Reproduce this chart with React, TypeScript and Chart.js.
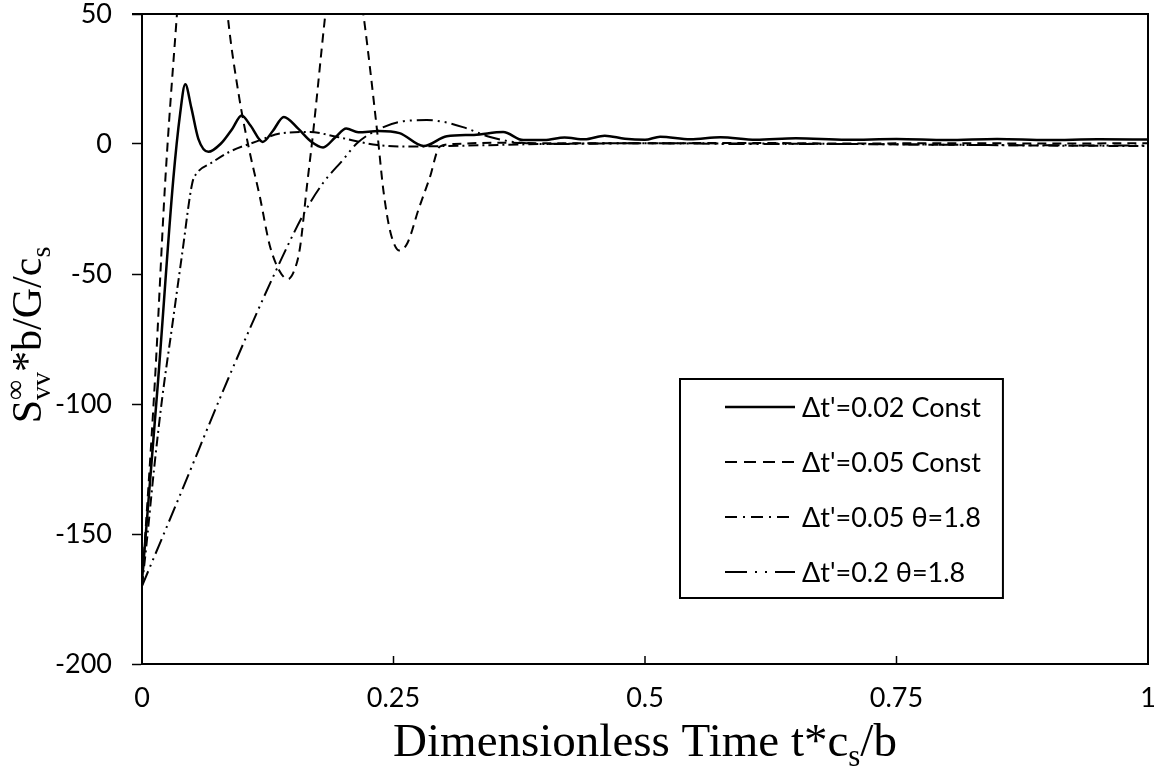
import React, { useEffect, useRef } from "react";
import { Chart, registerables } from "chart.js";

Chart.register(...registerables);

// Δt'=0.02 Const (solid)
const s1X = [0, 0.016, 0.031, 0.038, 0.043, 0.049, 0.056, 0.066, 0.078, 0.09, 0.099, 0.108, 0.12, 0.13, 0.141, 0.155, 0.168, 0.18, 0.192, 0.203, 0.215, 0.235, 0.256, 0.28, 0.303, 0.33, 0.359, 0.379, 0.4, 0.42, 0.44, 0.46, 0.48, 0.5, 0.515, 0.545, 0.575, 0.61, 0.65, 0.7, 0.75, 0.8, 0.85, 0.9, 0.95, 1];
const s1Y = [-168, -91, -14, 12, 23, 14, 2, -3, 0, 6, 11, 7, 0.8, 5, 10.4, 6, 1, -1.3, 2.5, 6, 4.5, 5, 4.2, -0.8, 3, 3.5, 4.6, 1.5, 1.5, 2.5, 1.8, 3.2, 2, 1.6, 2.8, 1.8, 2.6, 1.6, 2.2, 1.6, 1.9, 1.5, 1.9, 1.5, 1.8, 1.7];

// Δt'=0.05 Const (dashed)
const s2X = [0, 0.013, 0.023, 0.034, 0.045, 0.06, 0.075, 0.085, 0.097, 0.107, 0.117, 0.127, 0.137, 0.145, 0.152, 0.157, 0.164, 0.17, 0.182, 0.19, 0.2, 0.21, 0.22, 0.234, 0.24, 0.247, 0.256, 0.264, 0.275, 0.286, 0.296, 0.31, 0.35, 0.4, 0.5, 0.6, 0.7, 0.8, 0.9, 1];
const s2Y = [-170, -90, -15, 46, 100, 125, 95, 50, 17, -3, -20, -39, -49, -52, -48, -40, -16, 4, 49, 75, 85, 75, 50, 4, -18, -34, -41, -38, -25, -13, -1, 0, 0.5, 0.3, 0.3, 0.4, 0.2, 0.3, 0.2, 0.3];

// Δt'=0.05 θ=1.8 (dash-dot)
const s3X = [0, 0.005, 0.012, 0.02, 0.03, 0.04, 0.05, 0.055, 0.068, 0.087, 0.114, 0.137, 0.167, 0.194, 0.234, 0.263, 0.3, 0.4, 0.5, 0.6, 0.7, 0.8, 0.9, 1];
const s3Y = [-170, -152, -125, -98, -70, -42, -15, -11, -7.5, -3, 1, 4, 4.6, 2.7, -0.4, -1, -0.8, 0, 0.3, 0.2, 0, -0.3, -0.6, -0.8];

// Δt'=0.2 θ=1.8 (dash-dot-dot)
const s4X = [0, 0.04, 0.086, 0.134, 0.162, 0.18, 0.2, 0.214, 0.237, 0.256, 0.283, 0.3, 0.319, 0.346, 0.369, 0.4, 0.5, 0.6, 0.7, 0.8, 0.9, 1];
const s4Y = [-170, -133, -90, -48, -26, -15, -6, 0.4, 6, 8.5, 9.2, 8.5, 6.5, 2.7, 0.8, 0, 0.3, 0, 0, -0.3, -0.5, -0.6];

const seriesLabels = ["Δt'=0.02 Const", "Δt'=0.05 Const", "Δt'=0.05 θ=1.8", "Δt'=0.2 θ=1.8"];
const xTicks = [0, 0.25, 0.5, 0.75, 1];
const yTicks = [-200, -150, -100, -50, 0, 50];

const dashes: number[][] = [[], [9, 6], [10, 4, 2, 4], [16, 5, 2, 5, 2, 5]];
const legendDashes: number[][] = [[], [12, 7], [12, 6, 2, 6], [22, 8, 2, 8, 2, 8]];
const widths = [2.5, 2, 2, 2];

const zip = (xs: number[], ys: number[]) => xs.map((x, i) => ({ x, y: ys[i] }));

const TICK_FONT = "Lato, 'Open Sans', sans-serif";
const SERIF = "'Liberation Serif', 'Times New Roman', serif";

const decorPlugin = {
  id: "decor",
  afterDraw(chart: any) {
    const ctx = chart.ctx as CanvasRenderingContext2D;
    const { left, right, top, bottom } = chart.chartArea;
    const xs = chart.scales.x;
    ctx.save();
    ctx.strokeStyle = "#000";
    ctx.lineWidth = 2;
    // top & right frame
    ctx.beginPath();
    ctx.moveTo(left - 10, top);
    ctx.lineTo(right, top);
    ctx.lineTo(right, bottom);
    ctx.stroke();
    // inward x ticks
    ctx.lineWidth = 1.5;
    xTicks.forEach((v) => {
      const px = xs.getPixelForValue(v);
      ctx.beginPath();
      ctx.moveTo(px, bottom);
      ctx.lineTo(px, bottom - 8);
      ctx.stroke();
    });

    // x title
    ctx.fillStyle = "#000";
    ctx.textBaseline = "alphabetic";
    const big = 47;
    const small = 31;
    const parts: [string, number, number][] = [
      ["Dimensionless Time t*c", big, 0],
      ["s", small, 10],
      ["/b", big, 0],
    ];
    let total = 0;
    parts.forEach(([t, s]) => {
      ctx.font = `${s}px ${SERIF}`;
      total += ctx.measureText(t).width;
    });
    let cx = 645 - total / 2;
    const baseY = 756;
    parts.forEach(([t, s, dy]) => {
      ctx.font = `${s}px ${SERIF}`;
      ctx.fillText(t, cx, baseY + dy);
      cx += ctx.measureText(t).width;
    });

    // y title (rotated)
    const yb = 42, ys = 28;
    ctx.save();
    ctx.translate(41, 335);
    ctx.rotate(-Math.PI / 2);
    ctx.font = `${yb}px ${SERIF}`;
    const wS = ctx.measureText("S").width;
    ctx.font = `${ys}px ${SERIF}`;
    const wInf = ctx.measureText("∞").width;
    const wvv = ctx.measureText("vv").width;
    ctx.font = `${yb}px ${SERIF}`;
    const wMid = ctx.measureText("*b/G/c").width;
    ctx.font = `${ys}px ${SERIF}`;
    const ws = ctx.measureText("s").width;
    const tw = wS + Math.max(wInf, wvv) + wMid + ws;
    let yx = -tw / 2;
    ctx.font = `${yb}px ${SERIF}`;
    ctx.fillText("S", yx, 0);
    yx += wS;
    ctx.font = `${ys}px ${SERIF}`;
    ctx.fillText("∞", yx, -17);
    ctx.fillText("vv", yx, 9);
    yx += Math.max(wInf, wvv);
    ctx.font = `${yb}px ${SERIF}`;
    ctx.fillText("*b/G/c", yx, 0);
    yx += wMid;
    ctx.font = `${ys}px ${SERIF}`;
    ctx.fillText("s", yx, 9);
    ctx.restore();

    // legend
    ctx.font = `27px ${TICK_FONT}`;
    let maxW = 0;
    seriesLabels.forEach((l) => { maxW = Math.max(maxW, ctx.measureText(l).width); });
    const lx = 680, ly = 379, lh = 219;
    const textX = lx + 122;
    const lw = textX + maxW + 22 - lx;
    ctx.fillStyle = "#fff";
    ctx.fillRect(lx, ly, lw, lh);
    ctx.lineWidth = 2;
    ctx.strokeStyle = "#000";
    ctx.strokeRect(lx, ly, lw, lh);
    ctx.fillStyle = "#000";
    ctx.textBaseline = "middle";
    seriesLabels.forEach((lab, i) => {
      const ry = ly + 28 + i * 55;
      ctx.beginPath();
      ctx.setLineDash(legendDashes[i]);
      ctx.lineWidth = widths[i];
      ctx.moveTo(lx + 45, ry);
      ctx.lineTo(lx + 115, ry);
      ctx.stroke();
      ctx.setLineDash([]);
      ctx.fillText(lab, textX, ry + 1);
    });
    ctx.restore();
  },
};

export default function App() {
  const ref = useRef<HTMLCanvasElement>(null);
  useEffect(() => {
    document.body.style.margin = "0";
    const canvas = ref.current!;
    const datasets = [
      zip(s1X, s1Y),
      zip(s2X, s2Y),
      zip(s3X, s3Y),
      zip(s4X, s4Y),
    ].map((d, i) => ({
      label: seriesLabels[i],
      data: d,
      borderColor: "#000",
      backgroundColor: "#000",
      borderWidth: widths[i],
      borderDash: dashes[i],
      pointRadius: 0,
      fill: false,
      cubicInterpolationMode: "monotone" as const,
    }));
    const chart = new Chart(canvas, {
      type: "line",
      data: { datasets },
      plugins: [decorPlugin],
      options: {
        animation: false,
        responsive: false,
        maintainAspectRatio: false,
        layout: { padding: { left: 0, right: 14, top: 14, bottom: 0 } },
        plugins: { legend: { display: false }, tooltip: { enabled: false } },
        scales: {
          x: {
            type: "linear",
            min: 0,
            max: 1,
            afterFit: (s: any) => {
              s.height = 107;
              s.paddingLeft = 0;
              s.paddingRight = 0;
            },
            afterBuildTicks: (s: any) => { s.ticks = xTicks.map((v) => ({ value: v })); },
            ticks: {
              color: "#000",
              font: { family: TICK_FONT, size: 27 },
              padding: 18,
              maxRotation: 0,
              callback: (v: any) => String(v),
            },
            grid: { display: true, drawOnChartArea: false, drawTicks: false, color: "#000" },
            border: { display: true, color: "#000", width: 2 },
          },
          y: {
            type: "linear",
            min: -200,
            max: 50,
            afterFit: (s: any) => {
              s.width = 142;
              s.paddingTop = 0;
              s.paddingBottom = 0;
            },
            afterBuildTicks: (s: any) => { s.ticks = yTicks.map((v) => ({ value: v })); },
            ticks: {
              color: "#000",
              font: { family: TICK_FONT, size: 27 },
              padding: 20,
              callback: (v: any) => String(v),
            },
            grid: { display: true, drawOnChartArea: false, drawTicks: true, tickLength: 10, tickWidth: 1.5, tickColor: "#000", color: "#000" },
            border: { display: true, color: "#000", width: 2 },
          },
        },
      },
    });
    return () => chart.destroy();
  }, []);
  return <canvas ref={ref} width={1162} height={771} style={{ display: "block" }} />;
}
